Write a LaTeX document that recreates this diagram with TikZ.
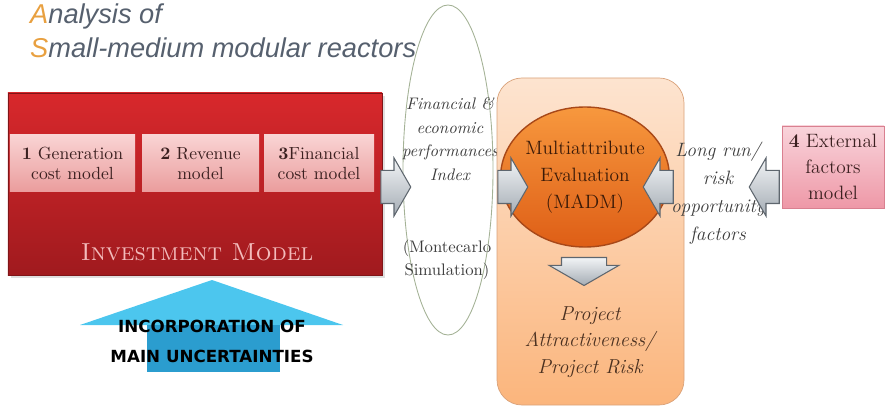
\documentclass[tikz,border=0pt]{standalone}
\usepackage{fontspec}
\usepackage{tikz}
\usetikzlibrary{shapes.geometric, shapes.arrows, shadows}
\newfontfamily\titlefont{Liberation Sans}
\newfontfamily\capsfont{DejaVu Sans}
\definecolor{titlegrey}{HTML}{56606E}
\definecolor{titleorange}{HTML}{E8A040}
\definecolor{investtop}{HTML}{D8282C}
\definecolor{investbot}{HTML}{A01A1E}
\definecolor{subtop}{HTML}{F9D4D4}
\definecolor{subbot}{HTML}{EA9C9C}
\definecolor{subtext}{HTML}{3B2020}
\definecolor{labelpink}{HTML}{F3BBBB}
\definecolor{arrowtop}{HTML}{F2F4F6}
\definecolor{arrowbot}{HTML}{A4ACB4}
\definecolor{arrowedge}{HTML}{5E666E}
\definecolor{ellipseedge}{HTML}{A4B296}
\definecolor{notegrey}{HTML}{3C3C3C}
\definecolor{evaltop}{HTML}{FDE4D0}
\definecolor{evalbot}{HTML}{FBB57C}
\definecolor{evaledge}{HTML}{D9A27A}
\definecolor{madmtop}{HTML}{F7983E}
\definecolor{madmbot}{HTML}{DE5E16}
\definecolor{madmedge}{HTML}{A84818}
\definecolor{madmtext}{HTML}{3A1A08}
\definecolor{risktext}{HTML}{4A3020}
\definecolor{externtop}{HTML}{F9D4DB}
\definecolor{externbot}{HTML}{EE98A7}
\definecolor{externedge}{HTML}{D98090}
\definecolor{uncerthead}{HTML}{4CC6EE}
\definecolor{uncertshaft}{HTML}{2B9DCF}
\tikzset{
    investbox/.style={rectangle, top color=investtop, bottom color=investbot, draw=investbot!80!black, minimum width=74.8mm, minimum height=36.4mm, drop shadow={opacity=0.25, shadow xshift=0.6mm, shadow yshift=-0.6mm}},
    submodel/.style={rectangle, top color=subtop, bottom color=subbot, inner sep=0pt, minimum height=11.4mm, align=center, text=subtext, font=\fontsize{10}{11.5}\selectfont},
    greyarrow/.style={single arrow, single arrow tip angle=120, inner xsep=0pt, inner ysep=3.2mm, minimum width=11.6mm, minimum height=6mm, top color=arrowtop, bottom color=arrowbot, draw=arrowedge, line width=0.6pt},
    note/.style={align=center, text=notegrey, font=\itshape\fontsize{9.5}{12.5}\selectfont}
}
\begin{document}
\begin{tikzpicture}[x=0.2mm, y=-0.2mm]
    \useasboundingbox (0,0) rectangle (885,408);

    % title
    \node[anchor=west, text=titlegrey, font=\titlefont\itshape\fontsize{15.5}{18}\selectfont] (title1) at (24,16) {{\color{titleorange}A}nalysis of};
    \node[anchor=west, text=titlegrey, font=\titlefont\itshape\fontsize{15.5}{18}\selectfont] (title2) at (24,48) {{\color{titleorange}S}mall-medium modular reactors};

    % investment model
    \node[investbox] (invest) at (195,184) {};
    \node[submodel, minimum width=25mm] (gen) at (72.5,163.5) {\textbf{1} Generation\\cost model};
    \node[submodel, minimum width=23.4mm] (rev) at (200.5,163.5) {\textbf{2} Revenue\\model};
    \node[submodel, minimum width=22mm] (fin) at (319,163.5) {\textbf{3}Financial\\cost model};
    \node[text=labelpink, font=\fontsize{14}{16}\selectfont\scshape] (investlabel) at (197,252) {Investment Model};

    % performance index
    \node[ellipse, draw=ellipseedge, line width=0.5pt, inner sep=0pt, minimum width=18mm, minimum height=66mm] (perf) at (448,170) {};
    \node[note, font=\itshape\fontsize{9.5}{13.5}\selectfont] (perfidx) at (450,139) {Financial \&\\economic\\performances\\Index};
    \node[note, font=\fontsize{9.5}{13}\selectfont] (mc) at (447,260) {(Montecarlo\\Simulation)};

    % evaluation
    \node[rectangle, rounded corners=5mm, top color=evaltop, bottom color=evalbot, draw=evaledge, minimum width=37.4mm, minimum height=65.4mm] (evalbox) at (590.5,241.5) {};
    \node[ellipse, top color=madmtop, bottom color=madmbot, draw=madmedge, line width=0.8pt, minimum width=25.4mm, minimum height=28mm, inner sep=0pt, align=center, text=madmtext, font=\fontsize{11}{15.5}\selectfont] (madm) at (585,177) {Multiattribute\\Evaluation\\(MADM)};
    \node[align=center, text=risktext, font=\itshape\fontsize{11.5}{15}\selectfont] (risk) at (590,342) {Project\\Attractiveness/\\Project Risk};

    % external factors
    \node[note, font=\itshape\fontsize{11}{16}\selectfont] (longrun) at (718,193) {Long run/\\risk\\opportunity\\factors};
    \node[rectangle, top color=externtop, bottom color=externbot, draw=externedge, minimum width=20.4mm, minimum height=16.4mm, align=center, text=subtext, font=\fontsize{11}{15}\selectfont] (extern) at (833,167) {\textbf{4} External\\factors\\model};

    % block arrows
    \node[greyarrow] (a1) at (391,187) {};
    \node[greyarrow] (a2) at (508,187) {};
    \node[greyarrow, shape border rotate=180] (a3) at (663,187) {};
    \node[greyarrow, shape border rotate=180] (a4) at (769,187) {};
    \node[greyarrow, shape border rotate=270, minimum width=13mm, minimum height=5.6mm, inner xsep=4.4mm, inner ysep=0pt] (a5) at (584,265) {};

    % uncertainties
    \fill[uncerthead] (80,325) -- (212,280) -- (343,325) -- cycle;
    \fill[uncertshaft] (147,325) rectangle (280,372);
    \node[align=center, font=\capsfont\bfseries\fontsize{9.5}{17}\selectfont] (uncert) at (212,341) {INCORPORATION OF\\MAIN UNCERTAINTIES};
\end{tikzpicture}
\end{document}
